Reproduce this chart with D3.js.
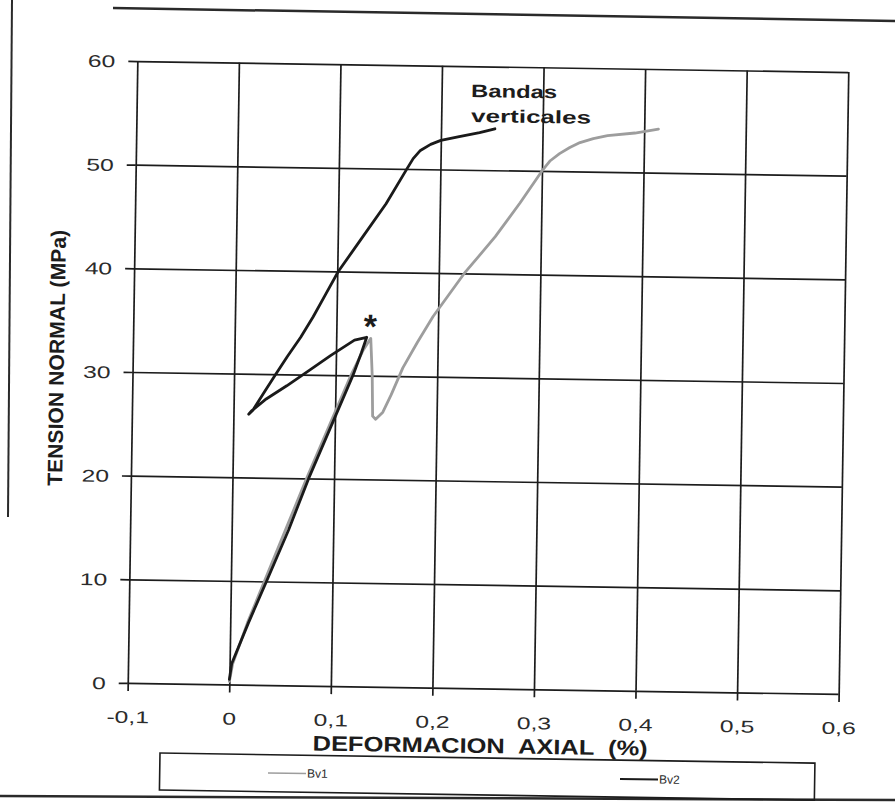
<!DOCTYPE html>
<html>
<head>
<meta charset="utf-8">
<script src="https://cdn.jsdelivr.net/npm/d3@7"></script>
<style>
  html, body { margin: 0; padding: 0; background: #fff; }
  svg { display: block; }
</style>
</head>
<body>
<div id="chart"></div>
<script>
// ---------------- DATA ----------------
const seriesNames = ["Bv1", "Bv2"];
const xTicks = [-0.1, 0, 0.1, 0.2, 0.3, 0.4, 0.5, 0.6];
const yTicks = [0, 10, 20, 30, 40, 50, 60];

// Bv1 (grey): rise, sudden drop at the peak (*), then second rise
const bv1Strain = [0, 0.003, 0.017, 0.033, 0.053, 0.073, 0.094, 0.115, 0.127, 0.134,
                   0.136, 0.137, 0.140, 0.147, 0.155, 0.166, 0.180, 0.195, 0.210, 0.225,
                   0.240, 0.255, 0.279, 0.300, 0.308, 0.317, 0.327, 0.337, 0.350,
                   0.364, 0.391, 0.414];
const bv1Stress = [0.3, 2, 6, 10, 15, 20, 25, 30, 32.5, 33.6,
                   30, 26.1, 25.8, 26.5, 28.2, 30.8, 33.3, 35.8, 37.9, 40,
                   41.8, 43.6, 46.9, 50, 51.0, 51.7, 52.3, 52.8, 53.2,
                   53.5, 53.8, 54.2];

// Bv2 (black): rise, loop back (unloading) and reloading
const bv2Strain = [0, 0.002, 0.018, 0.035, 0.056, 0.075, 0.096, 0.117, 0.125, 0.130,
                   0.118, 0.095, 0.075, 0.052, 0.032, 0.0175, 0.015,
                   0.019, 0.029, 0.041, 0.052, 0.065, 0.077, 0.089, 0.101, 0.124,
                   0.147, 0.167, 0.173, 0.180, 0.190, 0.200, 0.218, 0.238, 0.253];
const bv2Stress = [0.5, 2, 6, 10, 15, 20, 25, 30, 32.2, 33.7,
                   33.4, 31.9, 30.5, 28.9, 27.6, 26.4, 26.1,
                   26.5, 28.1, 30.0, 31.7, 33.6, 35.6, 37.8, 40, 43.3,
                   46.6, 50, 51.0, 51.8, 52.4, 52.8, 53.2, 53.6, 54.0];

const annotationText = ["Bandas", "verticales"];
const peakMark = "*";
const xTitle = "DEFORMACION  AXIAL  (%)";
const yTitle = "TENSION NORMAL (MPa)";

// ---------------- LAYOUT ----------------
const W = 895, H = 802;
const theta = 0.885;           // scan is slightly rotated
const C = [488, 377.5];        // rotation centre
function inv(px, py) {         // screen position -> rotated-frame position
  const t = theta * Math.PI / 180, dx = px - C[0], dy = py - C[1];
  return [C[0] + dx * Math.cos(t) + dy * Math.sin(t),
          C[1] - dx * Math.sin(t) + dy * Math.cos(t)];
}
const plot = { left: 132.5, right: 843.5, top: 66.5, bottom: 688.5 };
const FONT = "'Liberation Sans', Arial, Helvetica, sans-serif";
const INK = "#1c1c1c";

const svg = d3.select("#chart").append("svg")
  .attr("width", W).attr("height", H)
  .style("font-family", FONT);

// page frame lines (scan edges)
const frame = svg.append("g").attr("stroke", "#2a2a2a").attr("fill", "none");
frame.append("line").attr("x1", 12).attr("y1", 0).attr("x2", 8).attr("y2", 517).attr("stroke-width", 2);
frame.append("line").attr("x1", 113).attr("y1", 8).attr("x2", 895).attr("y2", 21).attr("stroke-width", 2.5);
frame.append("line").attr("x1", 0).attr("y1", 796).attr("x2", 895).attr("y2", 800).attr("stroke-width", 2.5);

const g = svg.append("g").attr("transform", `rotate(${theta} ${C[0]} ${C[1]})`);

const x = d3.scaleLinear().domain([-0.1, 0.6]).range([plot.left, plot.right]);
const y = d3.scaleLinear().domain([0, 60]).range([plot.bottom, plot.top]);
const plotW = plot.right - plot.left, plotH = plot.bottom - plot.top;

// grid (vertical + horizontal) through axes
const gridX = g.append("g").attr("transform", `translate(0,${plot.bottom})`)
  .call(d3.axisBottom(x).tickValues(xTicks).tickSize(-plotH).tickFormat(""));
const gridY = g.append("g").attr("transform", `translate(${plot.left},0)`)
  .call(d3.axisLeft(y).tickValues(yTicks).tickSize(-plotW).tickFormat(""));
[gridX, gridY].forEach(s => {
  s.select(".domain").remove();
  s.selectAll("line").attr("stroke", INK).attr("stroke-width", 1.7);
});

// axes with outer ticks + labels
const fmtX = d => String(d).replace(".", ",");
const axX = g.append("g").attr("transform", `translate(0,${plot.bottom})`)
  .call(d3.axisBottom(x).tickValues(xTicks).tickSize(8).tickFormat(fmtX));
const axY = g.append("g").attr("transform", `translate(${plot.left},0)`)
  .call(d3.axisLeft(y).tickValues(yTicks).tickSize(9).tickFormat(d => String(d)));
[axX, axY].forEach(s => {
  s.select(".domain").remove();
  s.selectAll("line").attr("stroke", INK).attr("stroke-width", 1.7);
  s.selectAll("text").attr("x", 0).attr("y", 0).attr("dy", null)
    .attr("fill", "#2b2b2b").attr("font-family", FONT).attr("font-size", 17);
});
axX.selectAll("text").attr("text-anchor", "middle")
  .attr("transform", "translate(0,40) scale(1.45,1)");
axY.selectAll("text").attr("text-anchor", "end")
  .attr("transform", "translate(-22,6) scale(1.45,1)");

// series
const line = d3.line().x(d => x(d[0])).y(d => y(d[1]));
const bv1 = bv1Strain.map((s, i) => [s, bv1Stress[i]]);
const bv2 = bv2Strain.map((s, i) => [s, bv2Stress[i]]);
g.append("path").datum(bv1).attr("d", line)
  .attr("fill", "none").attr("stroke", "#9d9d9d").attr("stroke-width", 2.8)
  .attr("stroke-linejoin", "round").attr("stroke-linecap", "round");
g.append("path").datum(bv2).attr("d", line)
  .attr("fill", "none").attr("stroke", "#1a1a1a").attr("stroke-width", 2.8)
  .attr("stroke-linejoin", "round").attr("stroke-linecap", "round");

// annotations
const pA = inv(471, 97), pB = inv(471, 122);
g.append("text").attr("x", pA[0]).attr("y", pA[1]).text(annotationText[0])
  .attr("font-weight", "bold").attr("font-size", 18).attr("fill", INK)
  .attr("textLength", 86).attr("lengthAdjust", "spacingAndGlyphs");
g.append("text").attr("x", pB[0]).attr("y", pB[1]).text(annotationText[1])
  .attr("font-weight", "bold").attr("font-size", 18).attr("fill", INK)
  .attr("textLength", 120).attr("lengthAdjust", "spacingAndGlyphs");
const pS = inv(370, 338);
g.append("text").attr("x", pS[0]).attr("y", pS[1]).text(peakMark)
  .attr("text-anchor", "middle").attr("font-weight", "bold").attr("font-size", 34).attr("fill", INK);

// axis titles
const pX = inv(480, 753);
g.append("text").attr("x", pX[0]).attr("y", pX[1]).text(xTitle)
  .attr("text-anchor", "middle").attr("font-weight", "bold").attr("font-size", 21)
  .attr("fill", INK).attr("textLength", 335).attr("lengthAdjust", "spacingAndGlyphs")
  .style("white-space", "pre");
const pY = inv(64, 358);
g.append("text").attr("transform", `translate(${pY[0]},${pY[1]}) rotate(-90)`)
  .text(yTitle).attr("text-anchor", "middle").attr("font-weight", "bold")
  .attr("font-size", 21).attr("fill", INK).attr("textLength", 256).attr("lengthAdjust", "spacingAndGlyphs");

// legend
const pL = inv(160, 753);
g.append("rect").attr("x", pL[0]).attr("y", pL[1]).attr("width", 655).attr("height", 37)
  .attr("fill", "none").attr("stroke", INK).attr("stroke-width", 1.6);
const legendItems = [
  { name: seriesNames[0], color: "#9d9d9d", w: 1.5, at: [268, 773] },
  { name: seriesNames[1], color: "#1a1a1a", w: 2, at: [620, 779] }
];
legendItems.forEach(it => {
  const p = inv(it.at[0], it.at[1]);
  g.append("line").attr("x1", p[0]).attr("y1", p[1]).attr("x2", p[0] + 38).attr("y2", p[1])
    .attr("stroke", it.color).attr("stroke-width", it.w);
  g.append("text").attr("x", p[0] + 39).attr("y", p[1] + 4).text(it.name)
    .attr("font-size", 12).attr("fill", "#2b2b2b");
});
</script>
</body>
</html>
